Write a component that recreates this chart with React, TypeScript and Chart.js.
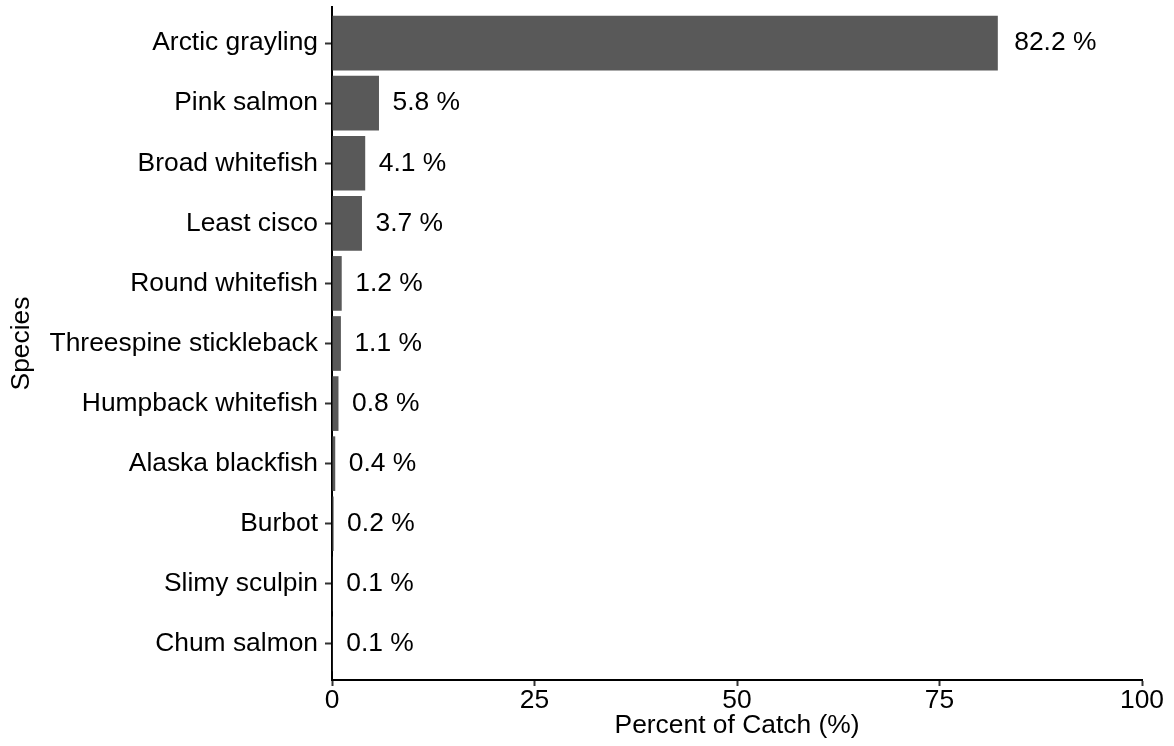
import React, { useEffect, useRef } from "react";
import { Chart, registerables } from "chart.js";

Chart.register(...registerables);

const categories = [
  "Arctic grayling",
  "Pink salmon",
  "Broad whitefish",
  "Least cisco",
  "Round whitefish",
  "Threespine stickleback",
  "Humpback whitefish",
  "Alaska blackfish",
  "Burbot",
  "Slimy sculpin",
  "Chum salmon",
];
const percentCatch = [82.2, 5.8, 4.1, 3.7, 1.2, 1.1, 0.8, 0.4, 0.2, 0.1, 0.1];
const xTickValues = [0, 25, 50, 75, 100];
const xTitle = "Percent of Catch (%)";
const yTitle = "Species";

const FONT = "'Liberation Sans', Arial, Helvetica, sans-serif";
const FS = 26.4;

const valueLabelPlugin = {
  id: "valueLabels",
  afterDatasetsDraw(chart: any) {
    const ctx = chart.ctx;
    const meta = chart.getDatasetMeta(0);
    ctx.save();
    ctx.font = `${FS}px ${FONT}`;
    ctx.fillStyle = "#000";
    ctx.textAlign = "left";
    ctx.textBaseline = "middle";
    meta.data.forEach((bar: any, i: number) => {
      const text = percentCatch[i].toFixed(1) + " %";
      const w = ctx.measureText(text).width;
      ctx.fillText(text, bar.x + 0.2 * w, bar.y);
    });
    ctx.restore();
  },
};

export default function App() {
  const ref = useRef<HTMLCanvasElement | null>(null);
  useEffect(() => {
    if (!ref.current) return;
    Chart.defaults.font.family = FONT;
    Chart.defaults.color = "#000";
    const chart = new Chart(ref.current, {
      type: "bar",
      data: {
        datasets: [
          {
            data: percentCatch.map((v, i) => ({ x: v, y: i })),
            backgroundColor: "#595959",
            borderWidth: 0,
            categoryPercentage: 1,
            barPercentage: 0.91,
          },
        ],
      },
      options: {
        indexAxis: "y",
        animation: false,
        responsive: false,
        devicePixelRatio: 1,
        layout: { padding: { top: 7, right: 32, left: 0, bottom: 0 } },
        plugins: { legend: { display: false }, tooltip: { enabled: false } },
        scales: {
          y: {
            type: "linear",
            reverse: true,
            min: -0.6,
            max: 10.6,
            offset: false,
            afterBuildTicks: (axis: any) => {
              axis.ticks = categories.map((_, i) => ({ value: i }));
            },
            afterFit: (scale: any) => {
              scale.width = 332;
              scale.paddingTop = 0;
              scale.paddingBottom = 0;
            },
            ticks: {
              autoSkip: false,
              padding: 7,
              color: "#000",
              font: { size: FS, family: FONT, lineHeight: 1 },
              callback: (v: any) => categories[Math.round(Number(v))] ?? "",
            },
            grid: {
              offset: false,
              drawOnChartArea: false,
              drawTicks: true,
              tickLength: 7,
              tickColor: "#333",
              tickWidth: 2,
            },
            border: { display: true, color: "#000", width: 2 },
            title: {
              display: true,
              text: yTitle,
              color: "#000",
              font: { size: FS, family: FONT },
              padding: { top: 6, bottom: 0 },
            },
          },
          x: {
            type: "linear",
            min: 0,
            max: 100,
            afterBuildTicks: (axis: any) => {
              axis.ticks = xTickValues.map((v) => ({ value: v }));
            },
            afterFit: (scale: any) => {
              scale.height = 66;
              scale.paddingLeft = 0;
              scale.paddingRight = 0;
            },
            ticks: {
              padding: 1.5,
              color: "#000",
              font: { size: FS, family: FONT, lineHeight: 1 },
              maxRotation: 0,
            },
            grid: {
              drawOnChartArea: false,
              drawTicks: true,
              tickLength: 6,
              tickColor: "#333",
              tickWidth: 2,
            },
            border: { display: true, color: "#000", width: 2 },
            title: {
              display: true,
              text: xTitle,
              color: "#000",
              font: { size: FS, family: FONT },
              padding: { top: 0, bottom: 4 },
            },
          },
        },
      },
      plugins: [valueLabelPlugin],
    } as any);
    return () => chart.destroy();
  }, []);
  return (
    <div style={{ position: "absolute", left: 0, top: 0, width: 1174, height: 746, background: "#fff" }}>
      <canvas ref={ref} width={1174} height={746} style={{ display: "block" }} />
    </div>
  );
}
